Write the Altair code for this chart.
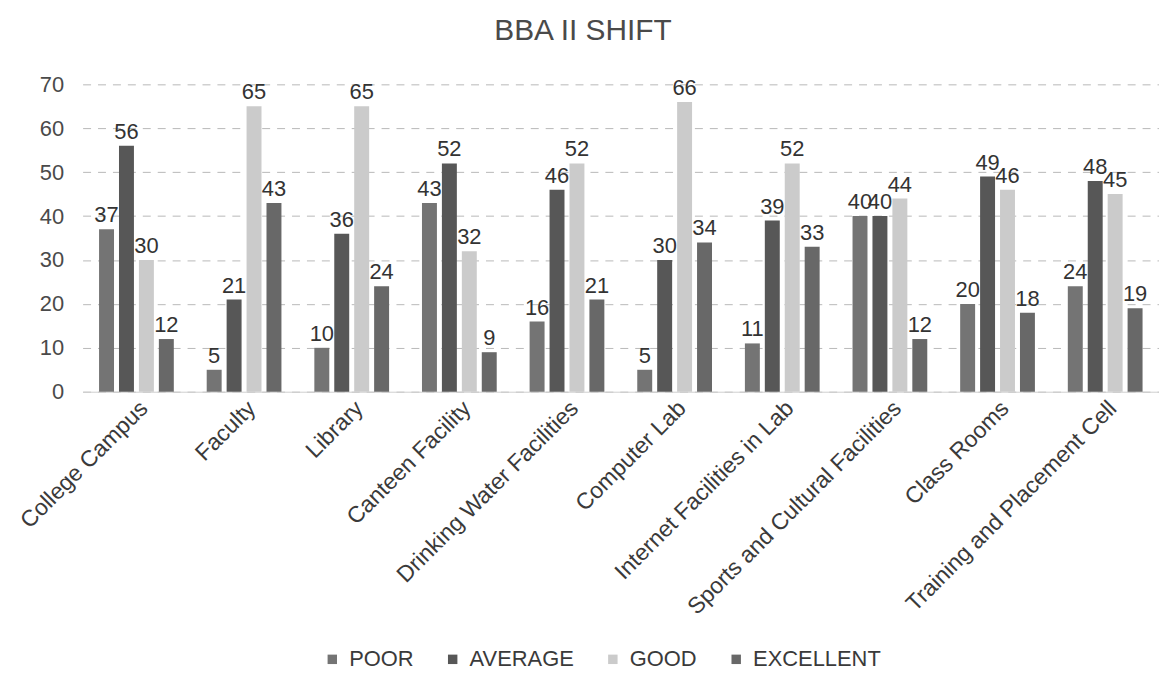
import altair as alt
import pandas as pd

categories = ["College Campus", "Faculty", "Library", "Canteen Facility",
              "Drinking Water Facilities", "Computer Lab", "Internet Facilities in Lab",
              "Sports and Cultural Facilities", "Class Rooms", "Training and Placement Cell"]
series = ["POOR", "AVERAGE", "GOOD", "EXCELLENT"]
poor = [37, 5, 10, 43, 16, 5, 11, 40, 20, 24]
average = [56, 21, 36, 52, 46, 30, 39, 40, 49, 48]
good = [30, 65, 65, 32, 52, 66, 52, 44, 46, 45]
excellent = [12, 43, 24, 9, 21, 34, 33, 12, 18, 19]
colors = ["#747474", "#575757", "#cbcbcb", "#686868"]

rows = []
for name, vals in zip(series, [poor, average, good, excellent]):
    for c, v in zip(categories, vals):
        rows.append({"Category": c, "Rating": name, "Value": v})
df = pd.DataFrame(rows)

FONT = "Liberation Sans"

base = alt.Chart(df).encode(
    x=alt.X("Category:N", sort=categories, title=None,
            scale=alt.Scale(paddingInner=0, paddingOuter=0),
            axis=alt.Axis(labelAngle=-45, labelFontSize=23, labelColor="#3a3a3a",
                          labelFont=FONT, ticks=False, domainColor="#d0d0d0",
                          labelPadding=5, labelLimit=500)),
    xOffset=alt.XOffset("Rating:N", sort=series,
                        scale=alt.Scale(paddingInner=0.25, paddingOuter=0.825)),
)

bars = base.mark_bar().encode(
    y=alt.Y("Value:Q", title=None,
            scale=alt.Scale(domain=[0, 70]),
            axis=alt.Axis(values=list(range(0, 71, 10)), labelFontSize=22,
                          labelColor="#4a4a4a", labelFont=FONT, ticks=False,
                          domain=False, gridColor="#b8b8b8", gridDash=[8, 7],
                          labelPadding=19)),
    color=alt.Color("Rating:N", sort=series,
                    scale=alt.Scale(domain=series, range=colors),
                    legend=alt.Legend(orient="none", legendX=240, legendY=567,
                                      title=None, direction="horizontal",
                                      labelFontSize=22, labelColor="#3a3a3a", labelFont=FONT,
                                      symbolType="square", symbolSize=90,
                                      symbolStrokeWidth=0, labelOffset=6,
                                      columnPadding=28)),
)

labels = base.mark_text(dy=-14, fontSize=22, color="#333333", font=FONT).encode(
    y=alt.Y("Value:Q"),
    text=alt.Text("Value:Q"),
)

chart = alt.layer(bars, labels).properties(
    width=1082, height=309,
    title=alt.TitleParams("BBA II SHIFT", fontSize=30, font=FONT, color="#4a4a4a",
                          fontWeight="normal", offset=28, anchor="middle", dx=-38),
    padding={"left": 8, "top": 6, "right": 0, "bottom": 0},
).configure_view(stroke=None)

chart.save("out.html", embed_options={"renderer": "svg", "actions": False})
